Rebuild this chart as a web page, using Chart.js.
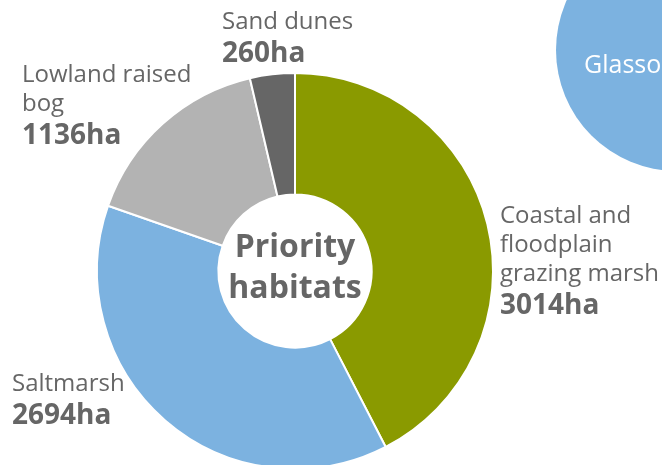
<!DOCTYPE html>
<html>
<head>
<meta charset="utf-8">
<script src="https://cdn.jsdelivr.net/npm/chart.js@4"></script>
<style>
  html, body { margin: 0; padding: 0; background: #fff; overflow: hidden; width: 662px; height: 465px; }
  #wrap { position: absolute; left: 0; top: 0; width: 662px; height: 520px; }
  .bubble {
    position: absolute; left: 556px; top: -71px; width: 242px; height: 242px;
    border-radius: 50%; background: #7cb2e0; overflow: hidden;
  }
  .bubble span {
    position: absolute; left: 28px; top: 117px; color: #fff;
    font: 400 25px "Open Sans"; white-space: nowrap;
  }
</style>
</head>
<body>
<div id="wrap"><canvas id="habitatChart" width="662" height="520"></canvas></div>
<div class="bubble"><span>Glasson Moss</span></div>
<script>
const habitats = [
  ["Coastal and", "floodplain", "grazing marsh"],
  ["Saltmarsh"],
  ["Lowland raised", "bog"],
  ["Sand dunes"],
];
const areas = [3014, 2694, 1136, 260];
const colours = ["#8a9a00", "#7cb2e0", "#b3b3b3", "#666666"];
const centreText = ["Priority", "habitats"];

// label placement relative to the doughnut centre (x, first baseline)
const labelSpots = [
  { dx: 205, dy: -48 },
  { dx: -283, dy: 120 },
  { dx: -273, dy: -189 },
  { dx: -73, dy: -242 },
];

const labelPlugin = {
  id: "habitatLabels",
  afterDraw(chart) {
    const ctx = chart.ctx;
    const arc = chart.getDatasetMeta(0).data[0];
    const cx = arc.x;
    const cy = arc.y;
    ctx.save();
    ctx.fillStyle = "#666666";
    ctx.textBaseline = "alphabetic";
    ctx.textAlign = "left";
    habitats.forEach((lines, i) => {
      const spot = labelSpots[i];
      let y = cy + spot.dy;
      ctx.font = "400 24px 'Open Sans'";
      lines.forEach((line) => {
        ctx.fillText(line, cx + spot.dx, y);
        y += 29;
      });
      ctx.font = "700 28px 'Open Sans'";
      ctx.fillText(areas[i] + "ha", cx + spot.dx, y + 4);
    });

    ctx.textAlign = "center";
    ctx.font = "700 32px 'Open Sans'";
    ctx.fillText(centreText[0], cx, cy - 14);
    ctx.fillText(centreText[1], cx, cy + 27);
    ctx.restore();
  },
};

const ctx = document.getElementById("habitatChart").getContext("2d");
let habitatChart = new Chart(ctx, {
  type: "doughnut",
  data: {
    labels: habitats,
    datasets: [
      {
        data: areas,
        backgroundColor: colours,
        borderColor: "#ffffff",
        borderWidth: 2,
        radius: 198,
        cutout: 77,
      },
    ],
  },
  options: {
    responsive: false,
    animation: false,
    layout: { padding: { left: 95, top: 71, right: 167, bottom: 49 } },
    plugins: {
      legend: { display: false },
      tooltip: { enabled: false },
    },
  },
  plugins: [labelPlugin],
});
</script>
</body>
</html>
